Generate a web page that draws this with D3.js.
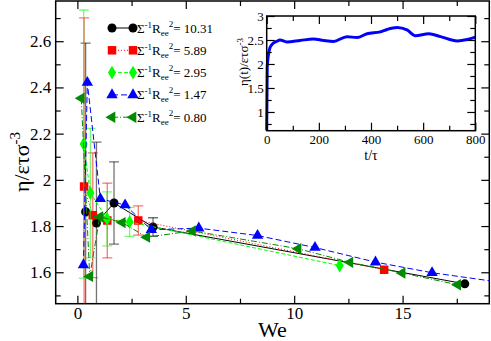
<!DOCTYPE html>
<html>
<head>
<meta charset="utf-8">
<script src="https://cdn.jsdelivr.net/npm/d3@7"></script>
<style>
    body { margin: 0; background: #fff; }
    svg, svg text { font-family: "Liberation Serif", "DejaVu Serif", serif; }
    .frame { fill: none; stroke: #000; stroke-width: 1.5; }
    .axis path { display: none; }
    .axis line { stroke: #000; stroke-width: 1.2; }
    .axis text { fill: #000; font-family: "Liberation Serif", serif; }
</style>
</head>
<body>
<script>
// main panel: eta vs We, one series per Sigma^-1 Ree^2
var labels = ["10.31", "5.89", "2.95", "1.47", "0.80"];

var we10 = [0.38, 0.88, 1.69, 3.49, 17.87];
var eta10 = [1.862, 1.813, 1.90, 1.796, 1.55];
var err10 = [0.73, 0.35, 0.178, 0.04, 0];

var we589 = [0.31, 0.71, 1.38, 2.81, 14.15];
var eta589 = [1.971, 1.847, 1.824, 1.824, 1.611];
var err589 = [0.73, 0.27, 0.162, 0.063, 0];

var we295 = [0.29, 0.60, 1.37, 2.41, 12.1];
var eta295 = [2.155, 1.943, 1.831, 1.818, 1.629];
var err295 = [0.58, 0.28, 0.117, 0.063, 0];

var we147 = [0.28, 0.46, 1.06, 2.2, 3.41, 5.6, 8.31, 10.96, 13.75, 16.36, 19.8];
var eta147 = [1.632, 2.421, 1.918, 1.891, 1.784, 1.791, 1.759, 1.707, 1.644, 1.598, 1.553];

var we080 = [0.18, 0.57, 1.03, 2.07, 3.2, 5.31, 10.18, 12.57, 14.98, 17.54];
var eta080 = [2.353, 1.582, 1.84, 1.815, 1.752, 1.779, 1.702, 1.643, 1.597, 1.546];

var xTicks = [0, 5, 10, 15];
var xMinor = [2.5, 7.5, 12.5, 17.5];
var yTicks = [1.6, 1.8, 2, 2.2, 2.4, 2.6];
var yMinor = [1.5, 1.7, 1.9, 2.1, 2.3, 2.5, 2.7];

// inset: eta(t) time series
var tInset = [0, 2, 10, 19, 38, 51, 77, 128, 179, 218, 256, 308, 346, 385, 436, 462, 500, 538, 570, 622, 667, 731, 769, 800];
var etaInset = [0.62, 1.94, 2.29, 2.40, 2.47, 2.50, 2.46, 2.49, 2.52, 2.49, 2.47, 2.57, 2.55, 2.63, 2.67, 2.72, 2.76, 2.71, 2.59, 2.63, 2.57, 2.48, 2.51, 2.56];
var tTicks = [0, 200, 400, 600, 800];
var tMinor = [100, 300, 500, 700];
var insetYTicks = [1, 1.5, 2, 2.5, 3];
var insetYMinor = [0.75, 1.25, 1.75, 2.25, 2.75];

var series = [
    { x: we10, y: eta10, err: err10, color: "#000000", symbol: d3.symbolCircle, size: 64, rot: 0, dash: null },
    { x: we589, y: eta589, err: err589, color: "#ff0000", symbol: d3.symbolSquare, size: 72, rot: 0, dash: "1,2" },
    { x: we295, y: eta295, err: err295, color: "#00ff00", symbol: d3.symbolDiamond, size: 56, rot: 0, dash: "4,2" },
    { x: we147, y: eta147, err: null, color: "#0000ff", symbol: d3.symbolTriangle, size: 56, rot: 0, dash: "6,3" },
    { x: we080, y: eta080, err: null, color: "#008b00", symbol: d3.symbolTriangle, size: 56, rot: -90, dash: "6,2,1,2" }
];

var svg = d3.select("body").append("svg")
    .attr("width", 491)
    .attr("height", 341);

var box = { left: 55.7, right: 489.3, top: 1, bottom: 303.7 };

var x = d3.scaleLinear().domain([-1, 19]).range([box.left, box.right]);
var y = d3.scaleLinear().domain([1.464, 2.774]).range([box.bottom, box.top]);

svg.append("clipPath").attr("id", "clip")
    .append("rect")
    .attr("x", box.left).attr("y", box.top)
    .attr("width", box.right - box.left).attr("height", box.bottom - box.top);

function cleanAxis(g) {
    g.attr("font-family", null).attr("font-size", null);
}

// ticks pointing inward on all four sides
function addTicks(g, xs, ys, xMaj, xMin, yMaj, yMin, b, fs, padX, padY) {
    g.append("g").attr("class", "axis")
        .attr("transform", "translate(0," + b.bottom + ")")
        .call(d3.axisBottom(xs).tickValues(xMin).tickSize(-5).tickFormat(""));
    g.append("g").attr("class", "axis")
        .attr("transform", "translate(0," + b.bottom + ")")
        .call(d3.axisBottom(xs).tickValues(xMaj).tickSize(-8).tickPadding(padX).tickFormat(function (d) { return d; }))
        .call(cleanAxis)
        .selectAll("text").style("font-size", fs + "px");
    g.append("g").attr("class", "axis")
        .attr("transform", "translate(0," + b.top + ")")
        .call(d3.axisTop(xs).tickValues(xMin).tickSize(-5).tickFormat(""));
    g.append("g").attr("class", "axis")
        .attr("transform", "translate(0," + b.top + ")")
        .call(d3.axisTop(xs).tickValues(xMaj).tickSize(-8).tickFormat(""));

    g.append("g").attr("class", "axis")
        .attr("transform", "translate(" + b.left + ",0)")
        .call(d3.axisLeft(ys).tickValues(yMin).tickSize(-5).tickFormat(""));
    g.append("g").attr("class", "axis")
        .attr("transform", "translate(" + b.left + ",0)")
        .call(d3.axisLeft(ys).tickValues(yMaj).tickSize(-8).tickPadding(padY).tickFormat(function (d) { return d; }))
        .call(cleanAxis)
        .selectAll("text").style("font-size", fs + "px");
    g.append("g").attr("class", "axis")
        .attr("transform", "translate(" + b.right + ",0)")
        .call(d3.axisRight(ys).tickValues(yMin).tickSize(-5).tickFormat(""));
    g.append("g").attr("class", "axis")
        .attr("transform", "translate(" + b.right + ",0)")
        .call(d3.axisRight(ys).tickValues(yMaj).tickSize(-8).tickFormat(""));

    g.append("rect").attr("class", "frame")
        .attr("x", b.left).attr("y", b.top)
        .attr("width", b.right - b.left).attr("height", b.bottom - b.top);
}

var main = svg.append("g");
addTicks(main, x, y, xTicks, xMinor, yTicks, yMinor, box, 17, 3, 4.5);

var plot = main.append("g").attr("clip-path", "url(#clip)");

series.forEach(function (s) {
    var pts = s.x.map(function (d, i) {
        return { x: d, y: s.y[i], e: s.err ? s.err[i] : 0 };
    });

    // error bars
    var eb = plot.append("g")
        .attr("stroke", s.color)
        .attr("stroke-opacity", 0.55)
        .attr("stroke-width", 1.3);
    pts.filter(function (d) { return d.e > 0; }).forEach(function (d) {
        eb.append("line")
            .attr("x1", x(d.x)).attr("x2", x(d.x))
            .attr("y1", y(d.y - d.e)).attr("y2", y(d.y + d.e));
        [d.y - d.e, d.y + d.e].forEach(function (v) {
            eb.append("line")
                .attr("x1", x(d.x) - 5).attr("x2", x(d.x) + 5)
                .attr("y1", y(v)).attr("y2", y(v));
        });
    });

    plot.append("path")
        .datum(pts)
        .attr("fill", "none")
        .attr("stroke", s.color)
        .attr("stroke-width", 1)
        .attr("stroke-dasharray", s.dash)
        .attr("d", d3.line()
            .x(function (d) { return x(d.x); })
            .y(function (d) { return y(d.y); }));

    plot.selectAll(null)
        .data(pts)
        .enter().append("path")
        .attr("fill", s.color)
        .attr("transform", function (d) {
            return "translate(" + x(d.x) + "," + y(d.y) + ") rotate(" + s.rot + ")";
        })
        .attr("d", d3.symbol().type(s.symbol).size(s.size));
});

// legend
var legend = main.append("g");
series.forEach(function (s, i) {
    var ly = 28 + i * 22.3;
    legend.append("line")
        .attr("x1", 112).attr("x2", 133)
        .attr("y1", ly).attr("y2", ly)
        .attr("stroke", s.color)
        .attr("stroke-width", 1)
        .attr("stroke-dasharray", s.dash);
    [112, 133].forEach(function (lx) {
        legend.append("path")
            .attr("fill", s.color)
            .attr("transform", "translate(" + lx + "," + ly + ") rotate(" + s.rot + ")")
            .attr("d", d3.symbol().type(s.symbol).size(s.size));
    });
    var t = legend.append("text")
        .attr("x", 137).attr("y", ly + 4.5)
        .style("font-size", "13px");
    t.append("tspan").text("\u03a3");
    t.append("tspan").attr("dy", -5).style("font-size", "9px").text("-1");
    t.append("tspan").attr("dy", 5).text("R");
    t.append("tspan").attr("dy", 3).style("font-size", "9px").text("ee");
    t.append("tspan").attr("dy", -9).style("font-size", "9px").text("2");
    t.append("tspan").attr("dy", 6).text("= " + labels[i]);
});

// axis titles
svg.append("text")
    .attr("x", (box.left + box.right) / 2)
    .attr("y", 337)
    .attr("text-anchor", "middle")
    .style("font-size", "22px")
    .text("We");

var yl = svg.append("text")
    .attr("transform", "translate(29,162) rotate(-90)")
    .attr("text-anchor", "middle")
    .style("font-size", "22px");
yl.append("tspan").text("\u03b7/\u03b5\u03c4\u03c3");
yl.append("tspan").attr("dy", -9).style("font-size", "15px").text("-3");

// inset
var ib = { left: 266.7, right: 475.3, top: 16, bottom: 130.7 };
var xi = d3.scaleLinear().domain([0, 800]).range([ib.left, ib.right]);
var yi = d3.scaleLinear().domain([0.61, 3]).range([ib.bottom, ib.top]);

var inset = svg.append("g");
inset.append("rect")
    .attr("x", ib.left).attr("y", ib.top)
    .attr("width", ib.right - ib.left).attr("height", ib.bottom - ib.top)
    .attr("fill", "#fff");

inset.append("path")
    .datum(tInset.map(function (d, i) { return [d, etaInset[i]]; }))
    .attr("fill", "none")
    .attr("stroke", "#0000ff")
    .attr("stroke-width", 3)
    .attr("stroke-linejoin", "round")
    .attr("d", d3.line()
        .curve(d3.curveMonotoneX)
        .x(function (d) { return xi(d[0]); })
        .y(function (d) { return yi(d[1]); }));

addTicks(inset, xi, yi, tTicks, tMinor, insetYTicks, insetYMinor, ib, 13, 4, 3);

inset.append("text")
    .attr("x", (ib.left + ib.right) / 2)
    .attr("y", 160)
    .attr("text-anchor", "middle")
    .style("font-size", "14px")
    .text("t/\u03c4");

var il = inset.append("text")
    .attr("transform", "translate(248,62) rotate(-90)")
    .attr("text-anchor", "middle")
    .style("font-size", "13px");
il.append("tspan").text("\u03b7(t)/\u03b5\u03c4\u03c3");
il.append("tspan").attr("dy", -5).style("font-size", "9px").text("-3");
</script>
</body>
</html>
